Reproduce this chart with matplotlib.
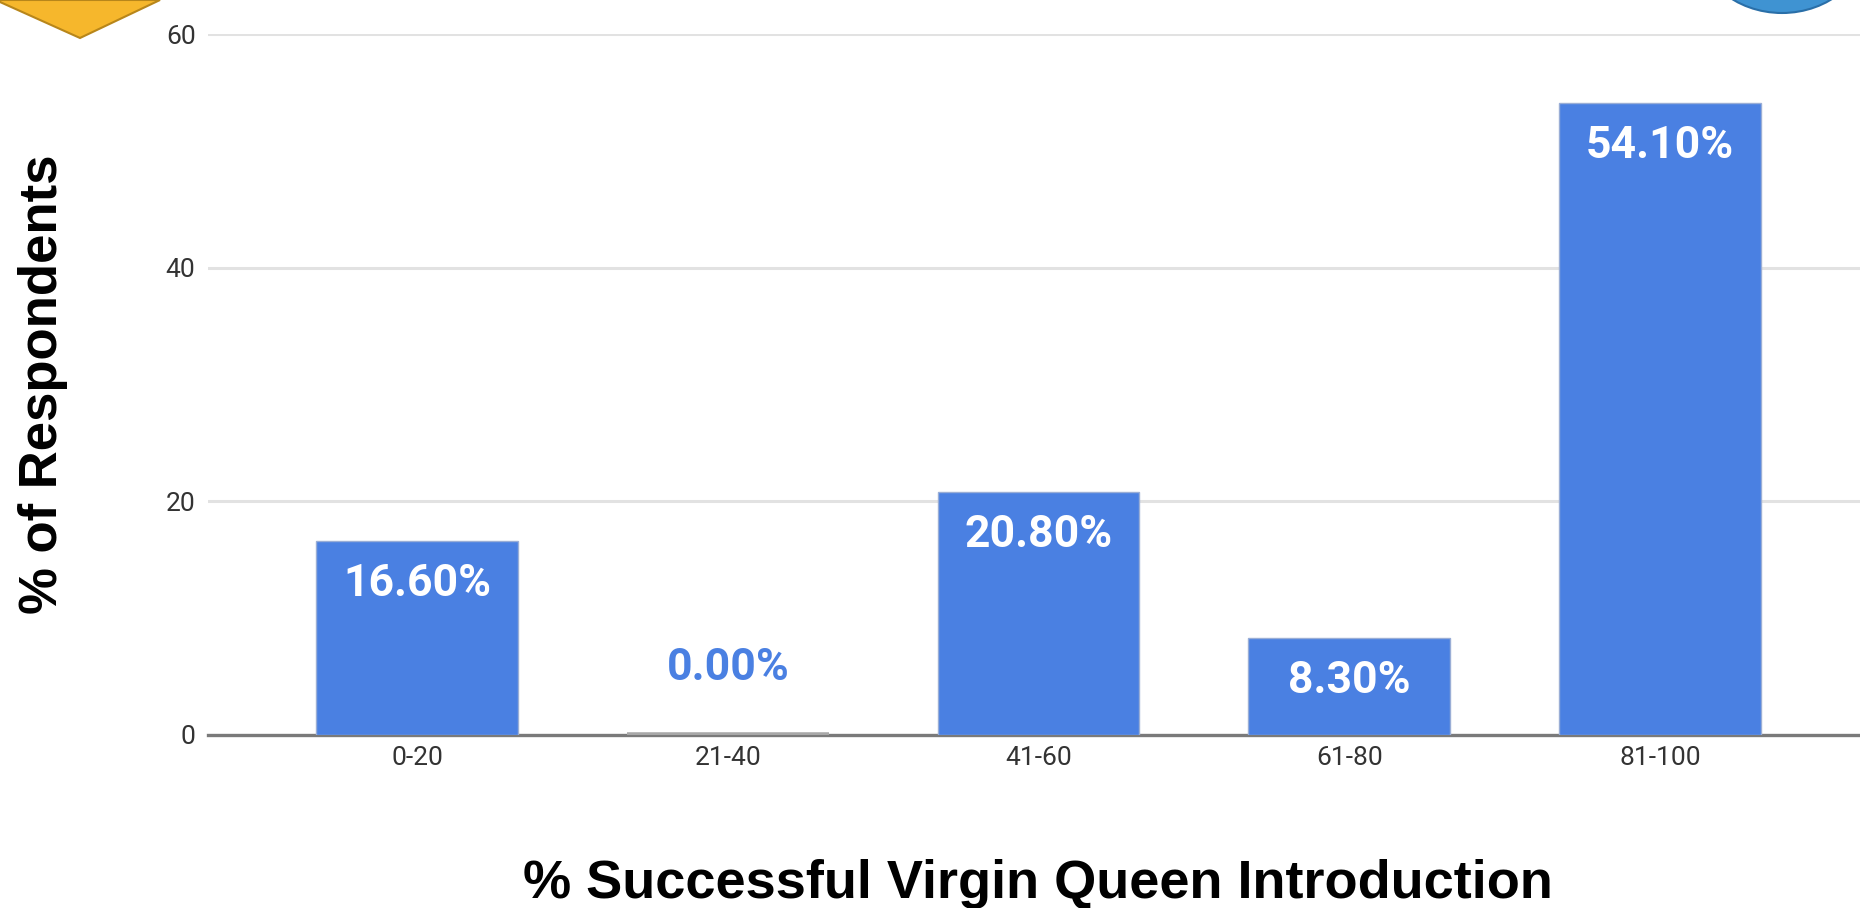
import matplotlib.pyplot as plt
from matplotlib.patches import Polygon, Ellipse

# data
categories = ["0-20", "21-40", "41-60", "61-80", "81-100"]
values = [16.6, 0.0, 20.8, 8.3, 54.1]
yticks = [0, 20, 40, 60]

BLUE = "#4a80e2"

fig = plt.figure(figsize=(18.6, 9.08), dpi=100)
W, H = 1860, 908

ax = fig.add_axes([208 / W, 1 - 735 / H, (W - 208) / W, (735 - 34) / H])

x = list(range(len(categories)))
lw = [4.0 if v == 0 else 1.0 for v in values]
ec = ["#a8a8a8" if v == 0 else "#9aaed6" for v in values]
ax.bar(x, values, width=0.65, color=BLUE, edgecolor=ec, linewidth=lw, zorder=3)

# value labels: inside (white) for tall bars, above (blue) for tiny ones
for xi, v in zip(x, values):
    txt = "%.2f%%" % v
    if v > 5:
        ax.annotate(txt, (xi, v), xytext=(0, -39.5), textcoords="offset points",
                    ha="center", va="baseline", color="white", fontsize=32,
                    fontweight="bold", family="Roboto", zorder=4)
    else:
        ax.annotate(txt, (xi, v), xytext=(0, 39.5), textcoords="offset points",
                    ha="center", va="baseline", color=BLUE, fontsize=32,
                    fontweight="bold", family="Roboto", zorder=4)

ax.set_xlim(-0.673, 4.644)
ax.set_ylim(0, 60)
ax.set_xticks(x)
ax.set_xticklabels(categories, family="Roboto", fontsize=19, color="#333333")
ax.set_yticks(yticks)
ax.set_yticklabels([str(t) for t in yticks], family="Roboto", fontsize=19, color="#333333")
ax.tick_params(axis="both", length=0)
ax.tick_params(axis="x", pad=8)
ax.tick_params(axis="y", pad=9)

ax.grid(axis="y", color="#e2e2e2", linewidth=2.2, zorder=0)
for s in ["top", "right", "left"]:
    ax.spines[s].set_visible(False)
ax.spines["bottom"].set_color("#7a7a7a")
ax.spines["bottom"].set_linewidth(2.4)
ax.spines["bottom"].set_zorder(2)

fig.text(43 / W, 1 - 384 / H, "% of Respondents", rotation=90, ha="center", va="center",
         fontsize=38, fontweight="bold", family="Liberation Sans", color="black")
fig.text(1038 / W, 1 - 884 / H, "% Successful Virgin Queen Introduction", ha="center",
         va="center", fontsize=39, fontweight="bold", family="Liberation Sans", color="black")

# cropped logos at the top corners
tr = fig.transFigure
diamond = Polygon([(0 / W, 1.0), (160 / W, 1.0), (80 / W, 1 - 38 / H), (0 / W, 1 - 2 / H)],
                  closed=True, transform=tr, facecolor="#f6b72c", edgecolor="#b8861a",
                  linewidth=1.5)
fig.patches.append(diamond)
logo = Ellipse((1782 / W, 1 - (-62) / H), 172 / W, 150 / H, transform=tr,
               facecolor="#3f93d2", edgecolor="#2a6fa8", linewidth=1.5)
fig.patches.append(logo)

fig.savefig("out.png", dpi=100)
